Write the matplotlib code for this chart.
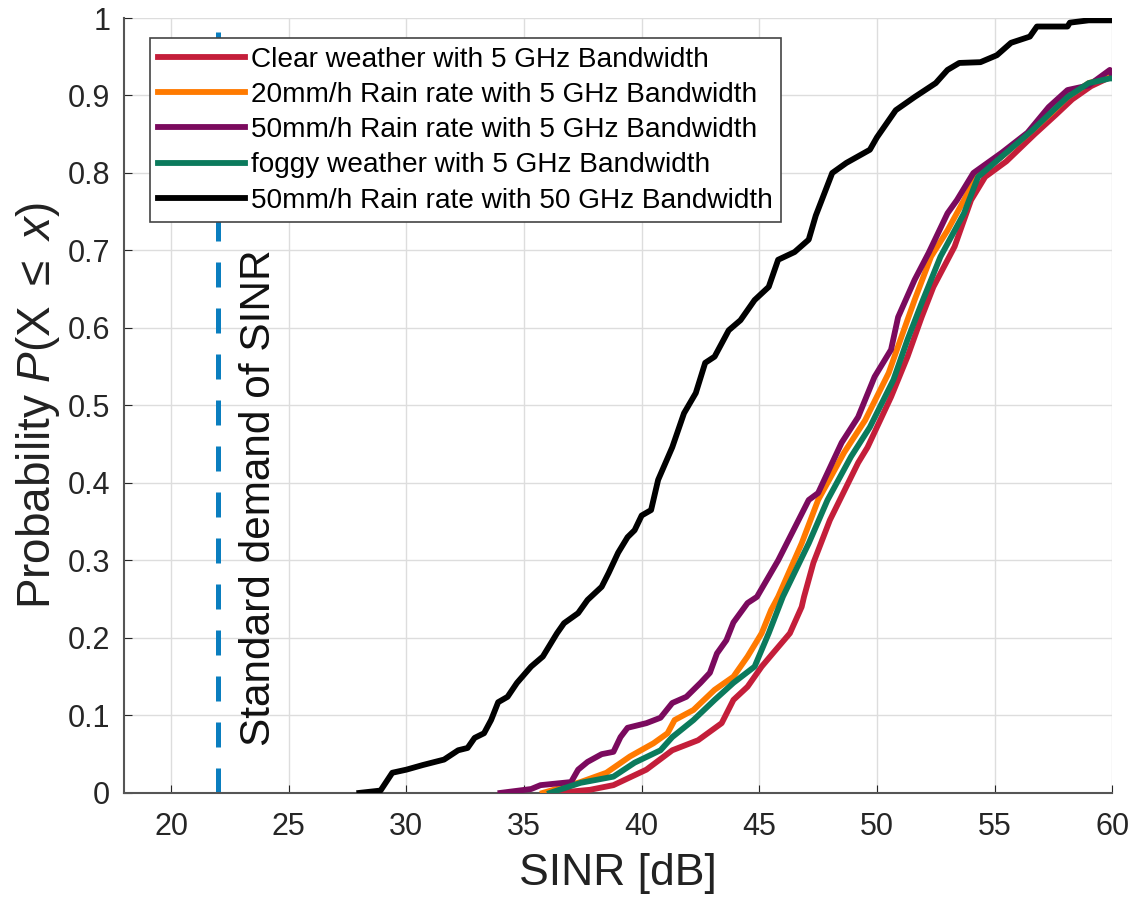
import matplotlib.pyplot as plt
from matplotlib.lines import Line2D

plt.rcParams['font.family'] = ['Liberation Sans', 'DejaVu Sans']
plt.rcParams['mathtext.fontset'] = 'custom'
plt.rcParams['mathtext.rm'] = 'Liberation Sans'
plt.rcParams['mathtext.it'] = 'Liberation Sans:italic'

# CDF curves
clear_x = [36.4, 37.8, 38.8, 40.2, 41.3, 42.4, 43.4, 43.9, 44.5, 45.1, 45.6, 46.3, 46.8, 46.9, 47.3, 48.0,
           49.2, 49.6, 50.6, 51.3, 51.9, 52.4, 53.3, 54.0, 54.6, 55.5, 56.7, 57.6, 58.3, 59.1, 60.0]
clear_y = [0, 0.004, 0.01, 0.03, 0.055, 0.068, 0.09, 0.12, 0.137, 0.163, 0.181, 0.206, 0.24, 0.253, 0.297, 0.352,
           0.426, 0.446, 0.511, 0.563, 0.614, 0.653, 0.705, 0.765, 0.795, 0.815, 0.85, 0.875, 0.895, 0.912, 0.925]

rain20_x = [35.8, 37.4, 38.5, 39.5, 40.5, 41.1, 41.4, 42.2, 43.1, 43.9, 44.5, 45.1, 45.5, 45.8, 46.8, 47.5,
            48.6, 49.5, 50.5, 51.0, 51.6, 52.3, 53.0, 53.7, 54.3, 55.3, 56.6, 57.5, 58.1, 59.0, 60.0]
rain20_y = [0, 0.014, 0.026, 0.047, 0.064, 0.077, 0.094, 0.107, 0.133, 0.150, 0.176, 0.206, 0.236, 0.253, 0.322, 0.378,
            0.439, 0.481, 0.542, 0.585, 0.636, 0.692, 0.726, 0.765, 0.80, 0.821, 0.855, 0.88, 0.898, 0.916, 0.925]

rain50_x = [34.0, 35.3, 35.7, 37.0, 37.3, 37.7, 38.3, 38.8, 39.1, 39.4, 40.2, 40.8, 41.3, 41.9, 42.5, 42.9,
            43.2, 43.6, 43.9, 44.5, 44.9, 45.8, 47.1, 47.5, 48.5, 49.2, 49.9, 50.6, 50.9, 51.6, 52.2, 53.0,
            53.4, 54.1, 55.3, 56.4, 57.3, 58.1, 59.0, 59.9, 60.0]
rain50_y = [0, 0.005, 0.01, 0.014, 0.03, 0.04, 0.05, 0.053, 0.072, 0.084, 0.09, 0.097, 0.116, 0.124, 0.142, 0.155,
            0.18, 0.197, 0.22, 0.245, 0.253, 0.30, 0.378, 0.387, 0.452, 0.485, 0.537, 0.572, 0.614, 0.662, 0.697, 0.748,
            0.765, 0.80, 0.826, 0.852, 0.885, 0.907, 0.913, 0.933, 0.925]

fog_x = [36.1, 37.4, 38.8, 39.7, 40.8, 41.3, 42.2, 43.1, 43.9, 44.8, 45.4, 46.0, 47.1, 47.9, 48.9, 49.7,
         50.7, 51.3, 51.9, 52.7, 53.7, 54.3, 55.3, 56.6, 57.5, 58.1, 59.0, 59.9, 60.0]
fog_y = [0, 0.013, 0.021, 0.039, 0.055, 0.072, 0.094, 0.12, 0.142, 0.163, 0.206, 0.253, 0.322, 0.378, 0.434, 0.472,
         0.533, 0.585, 0.632, 0.692, 0.748, 0.795, 0.821, 0.855, 0.881, 0.898, 0.916, 0.922, 0.922]

bw50_x = [28.0, 28.9, 29.4, 30.0, 30.7, 31.6, 32.2, 32.6, 32.9, 33.3, 33.6, 33.9, 34.3, 34.7, 35.3, 35.8,
          36.4, 36.7, 37.3, 37.7, 38.3, 38.6, 39.0, 39.4, 39.7, 40.0, 40.4, 40.7, 41.3, 41.8, 42.3, 42.7,
          43.1, 43.7, 44.2, 44.8, 45.4, 45.8, 46.5, 47.1, 47.4, 48.1, 48.7, 49.7, 50.0, 50.8, 51.6, 52.5,
          53.0, 53.5, 54.4, 55.1, 55.7, 56.5, 56.8, 58.1, 58.2, 59.0, 60.0]
bw50_y = [0.0, 0.003, 0.026, 0.03, 0.036, 0.043, 0.055, 0.058, 0.071, 0.077, 0.094, 0.117, 0.124, 0.142, 0.163, 0.176,
          0.206, 0.219, 0.232, 0.249, 0.266, 0.284, 0.31, 0.33, 0.339, 0.358, 0.365, 0.404, 0.446, 0.49, 0.516, 0.555,
          0.563, 0.597, 0.61, 0.636, 0.653, 0.688, 0.698, 0.714, 0.745, 0.80, 0.813, 0.83, 0.846, 0.881, 0.898, 0.916,
          0.933, 0.942, 0.943, 0.952, 0.968, 0.976, 0.989, 0.989, 0.994, 0.997, 0.997]

sinr_demand = 22

labels = ['Clear weather with 5 GHz Bandwidth',
          '20mm/h Rain rate with 5 GHz Bandwidth',
          '50mm/h Rain rate with 5 GHz Bandwidth',
          'foggy weather with 5 GHz Bandwidth',
          '50mm/h Rain rate with 50 GHz Bandwidth']
colors = ['#C41E3A', '#FF7A00', '#7B0A5E', '#0B7A5C', '#000000']

fig = plt.figure(figsize=(11.28, 9), dpi=100)
ax = fig.add_axes([0.110, 0.119, 0.876, 0.861])

ax.axvline(sinr_demand, color='#0A7EBF', lw=3.6, linestyle=(0, (5, 4.2)), zorder=2)

series = [(clear_x, clear_y), (rain20_x, rain20_y), (rain50_x, rain50_y), (fog_x, fog_y), (bw50_x, bw50_y)]
for (xs, ys), c, lab in zip(series, colors, labels):
    ax.plot(xs, ys, color=c, lw=4.2, label=lab, zorder=3)

ax.text(23.75, 0.06, 'Standard demand of SINR', rotation=90, fontsize=30.5,
        ha='center', va='bottom', color='#111111')

ax.set_xlim(18, 60)
ax.set_ylim(0, 1)
ax.set_xticks(range(20, 61, 5))
ax.set_yticks([i / 10 for i in range(11)])
ax.set_yticklabels(['0'] + ['0.%d' % i for i in range(1, 10)] + ['1'])
ax.tick_params(direction='in', length=6, labelsize=22, colors='#262626')
ax.tick_params(axis='x', pad=14)
ax.tick_params(axis='y', pad=10)
ax.grid(True, color='#DDDDDD', lw=1)
ax.set_axisbelow(True)
for s in ['top', 'right']:
    ax.spines[s].set_visible(False)
for s in ['left', 'bottom']:
    ax.spines[s].set_color('#555555')
    ax.spines[s].set_linewidth(1.5)

ax.set_xlabel('SINR [dB]', fontsize=32, color='#222222', labelpad=8)
ax.set_ylabel(r'Probability $P$(X $\leq$ $x$)', fontsize=33, color='#222222', labelpad=4)

handles = [Line2D([], [], color=c, lw=4.2) for c in colors]
leg = ax.legend(handles, labels, loc='upper left', bbox_to_anchor=(0.026, 0.974), borderaxespad=0,
                fontsize=20.2, handlelength=3.1, handletextpad=0.2, labelspacing=0.33,
                fancybox=False, framealpha=1, edgecolor='#444444', borderpad=0.3)
leg.get_frame().set_linewidth(1.2)

fig.savefig('out.png', dpi=100)
